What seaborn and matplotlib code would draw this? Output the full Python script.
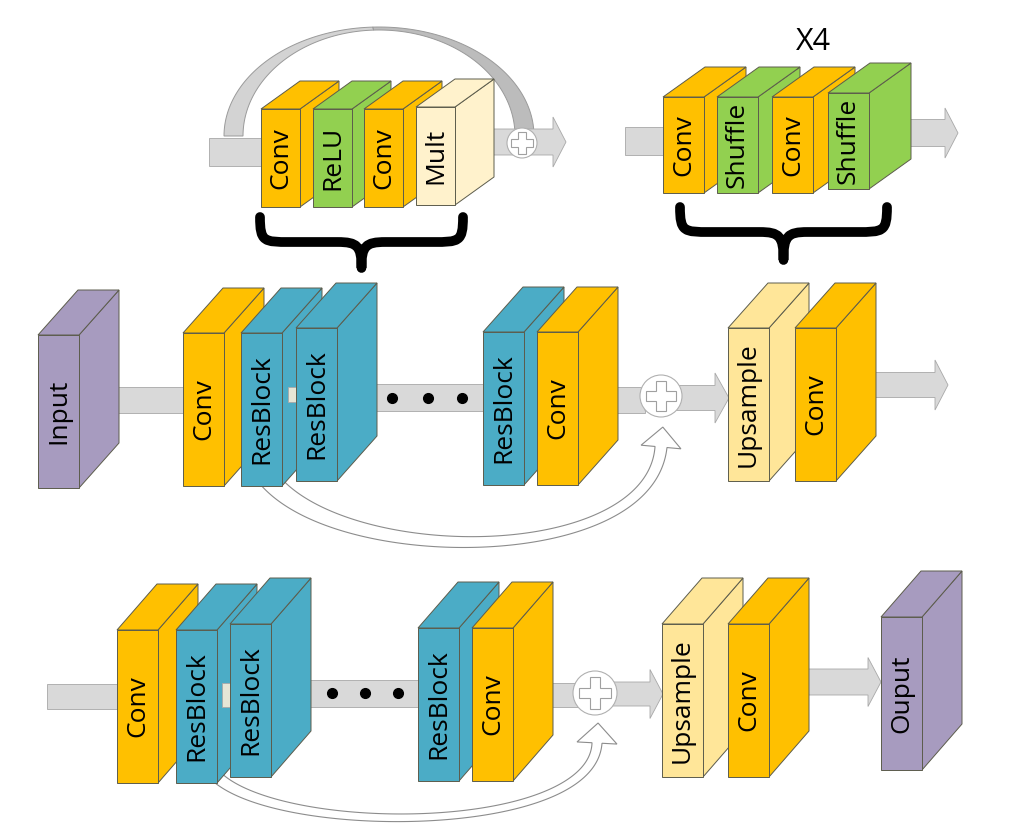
import numpy as np
import seaborn as sns
import matplotlib
matplotlib.use("Agg")
from matplotlib import pyplot as plt
from matplotlib.patches import Polygon, Circle, PathPatch
from matplotlib.path import Path

# labels of the blocks, row by row
res_labels = ["Conv", "ReLU", "Conv", "Mult"]
up_labels = ["Conv", "Shuffle", "Conv", "Shuffle"]
mid_labels = ["Input", "Conv", "ResBlock", "ResBlock", "ResBlock", "Conv", "Upsample", "Conv"]
low_labels = ["Conv", "ResBlock", "ResBlock", "ResBlock", "Conv", "Upsample", "Conv", "Ouput"]
repeat_text = "X4"

colors = {"Conv": "#FFC000", "ReLU": "#92D050", "Mult": "#FFF2CC",
          "Shuffle": "#92D050", "Input": "#A79BBF", "Ouput": "#A79BBF",
          "ResBlock": "#4BACC6", "Upsample": "#FFE699"}

EDGE = "#5c5c4c"
BAR = "#D9D9D9"
BAR_EDGE = "#a8a8a8"

sns.set_theme(style="white")
plt.rcParams['font.family'] = ['Open Sans', 'DejaVu Sans']

fig = plt.figure(figsize=(10.1, 8.38), dpi=100)
ax = fig.add_axes([0, 0, 1, 1])
ax.set_xlim(0, 1010)
ax.set_ylim(838, 0)
ax.axis('off')


def block(x, top, w, h, dx, dy, label, z):
    c = colors[label]
    front = [(x, top), (x + w, top), (x + w, top + h), (x, top + h)]
    topf = [(x, top), (x + dx, top - dy), (x + w + dx, top - dy), (x + w, top)]
    side = [(x + w, top), (x + w + dx, top - dy), (x + w + dx, top + h - dy), (x + w, top + h)]
    for pts in (side, topf, front):
        ax.add_patch(Polygon(pts, closed=True, fc=c, ec=EDGE, lw=0.7, zorder=z))
    ax.text(x + w / 2, top + h / 2, label, rotation=90, ha='center', va='center',
            fontsize=19, color='black', zorder=z + 0.05)


def bar(x0, x1, y0, y1, z=2, fc=BAR):
    ax.add_patch(Polygon([(x0, y0), (x1, y0), (x1, y1), (x0, y1)], closed=True,
                         fc=fc, ec=BAR_EDGE, lw=0.6, zorder=z))


def arrow(x0, x1, yc, sh, hl, hh, z=2):
    pts = [(x0, yc - sh / 2), (x1 - hl, yc - sh / 2), (x1 - hl, yc - hh / 2), (x1, yc),
           (x1 - hl, yc + hh / 2), (x1 - hl, yc + sh / 2), (x0, yc + sh / 2)]
    ax.add_patch(Polygon(pts, closed=True, fc=BAR, ec=BAR_EDGE, lw=0.6, zorder=z))


def plus(cx, cy, r, z=2.5):
    ax.add_patch(Circle((cx, cy), r, fc='white', ec='#b0b0b0', lw=0.8, zorder=z))
    a = r * 0.72
    b = r * 0.24
    pts = [(-b, -a), (b, -a), (b, -b), (a, -b), (a, b), (b, b), (b, a), (-b, a),
           (-b, b), (-a, b), (-a, -b), (-b, -b)]
    ax.add_patch(Polygon([(cx + p, cy + q) for p, q in pts], closed=True,
                         fc='white', ec='#a0a0a0', lw=0.8, zorder=z + 0.01))


def dots(xs, y):
    ax.plot(xs, [y] * len(xs), 'o', color='black', markersize=7, zorder=2.6)


def skip(p0, p1, p2, p3, w0, wm, w1, hw, hl, z=1):
    P = np.array([p0, p1, p2, p3], dtype=float)
    t = np.linspace(0, 1, 200)[:, None]
    B = (1 - t) ** 3 * P[0] + 3 * (1 - t) ** 2 * t * P[1] + 3 * (1 - t) * t ** 2 * P[2] + t ** 3 * P[3]
    dB = 3 * (1 - t) ** 2 * (P[1] - P[0]) + 6 * (1 - t) * t * (P[2] - P[1]) + 3 * t ** 2 * (P[3] - P[2])
    tan = dB / np.linalg.norm(dB, axis=1, keepdims=True)
    nrm = np.column_stack([-tan[:, 1], tan[:, 0]])
    tt = t[:, 0]
    w = w0 * (1 - tt) ** 2 + 2 * wm * tt * (1 - tt) + w1 * tt ** 2
    left = B + nrm * (w[:, None] / 2)
    right = B - nrm * (w[:, None] / 2)
    end = B[-1]
    tip = end + tan[-1] * hl
    hb1 = end + nrm[-1] * hw / 2
    hb2 = end - nrm[-1] * hw / 2
    pts = list(left) + [hb1, tip, hb2] + list(right[::-1])
    ax.add_patch(Polygon(pts, closed=True, fc='white', ec='#8c8c8c', lw=0.8, zorder=z))


def brace(L, R, top, mid, tip):
    cx = (L + R) / 2
    verts = [(L, top), (L, mid), (L + 4, mid), (L + 30, mid),
             (cx - 24, mid),
             (cx - 4, mid), (cx, mid + 4), (cx, tip),
             (cx, mid + 4), (cx + 4, mid), (cx + 24, mid),
             (R - 30, mid),
             (R - 4, mid), (R, mid), (R, top)]
    codes = [Path.MOVETO, Path.CURVE4, Path.CURVE4, Path.CURVE4,
             Path.LINETO,
             Path.CURVE4, Path.CURVE4, Path.CURVE4,
             Path.CURVE4, Path.CURVE4, Path.CURVE4,
             Path.LINETO,
             Path.CURVE4, Path.CURVE4, Path.CURVE4]
    ax.add_patch(PathPatch(Path(verts, codes), fc='none', ec='black', lw=7,
                           capstyle='round', joinstyle='round', zorder=5))


# ---------------- top left: residual block detail ----------------
th = np.linspace(np.pi, 0, 120)
cxa, cya = 379, 136
outer = np.column_stack([cxa + 155 * np.cos(th), cya - 109 * np.sin(th)])
inner = np.column_stack([cxa + 136 * np.cos(th), cya - 106 * np.sin(th)])
half = 58
ax.add_patch(Polygon(np.vstack([outer[:half + 1], inner[:half + 1][::-1]]), closed=True,
                     fc='#D3D3D3', ec='#9a9a9a', lw=0.7, zorder=1))
ax.add_patch(Polygon(np.vstack([outer[half:], inner[half:][::-1]]), closed=True,
                     fc='#BCBCBC', ec='#9a9a9a', lw=0.7, zorder=1))
bar(209, 263, 138, 166)
arrow(470, 566, 142, 26, 13, 50)
plus(522, 143, 15)
res_x = [261, 313, 364, 416]
res_top = [109, 109, 109, 107]
for i, lab in enumerate(res_labels):
    block(res_x[i], res_top[i], 39, 98, 39, 28, lab, 3 + i * 0.1)
brace(260, 463, 217, 242, 268)

# ---------------- top right: upsampler detail ----------------
ax.text(813, 42, repeat_text, ha='center', va='center', fontsize=22, color='black')
bar(625, 665, 127, 155)
arrow(900, 958, 133, 27, 13, 50)
up_x = [663, 717, 772, 828]
up_top = [97, 97, 97, 93]
for i, lab in enumerate(up_labels):
    block(up_x[i], up_top[i], 41, 96, 42, 30, lab, 3 + i * 0.1)
brace(680, 887, 207, 232, 260)

# ---------------- middle row ----------------
skip((268, 478), (340, 568), (650, 568), (661, 447), 20, 5, 12, 40, 20)
bar(118, 186, 387, 413)
bar(355, 486, 384, 411)
dots([392, 428, 462], 398)
bar(575, 645, 387, 413)
arrow(645, 729, 398, 25, 14, 50)
plus(661, 396, 21)
arrow(855, 948, 385, 25, 13, 50)
mid_x = [38, 183, 241, 296, 483, 537, 728, 795]
mid_top = [335, 333, 333, 328, 332, 332, 328, 328]
for i, lab in enumerate(mid_labels):
    block(mid_x[i], mid_top[i], 41, 153, 40, 45, lab, 3 + i * 0.1)
    if i == 2:
        bar(288, 297, 387, 402, z=3.25, fc='#E6E6D6')

# ---------------- bottom row ----------------
skip((213, 773), (270, 837), (592, 837), (597, 743), 12, 4, 10, 40, 20)
bar(47, 120, 684, 709)
bar(290, 420, 680, 707)
dots([332, 365, 398], 693)
bar(510, 582, 683, 707)
arrow(582, 663, 694, 24, 13, 49)
plus(595, 693, 22)
arrow(787, 881, 682, 26, 13, 49)
low_x = [117, 176, 230, 418, 472, 662, 728, 881]
low_top = [630, 630, 624, 628, 628, 624, 624, 617]
for i, lab in enumerate(low_labels):
    block(low_x[i], low_top[i], 41, 153, 40, 46, lab, 3 + i * 0.1)
    if i == 1:
        bar(222, 231, 683, 707, z=3.15, fc='#E6E6D6')

fig.savefig("out.png", dpi=100, facecolor='white')
